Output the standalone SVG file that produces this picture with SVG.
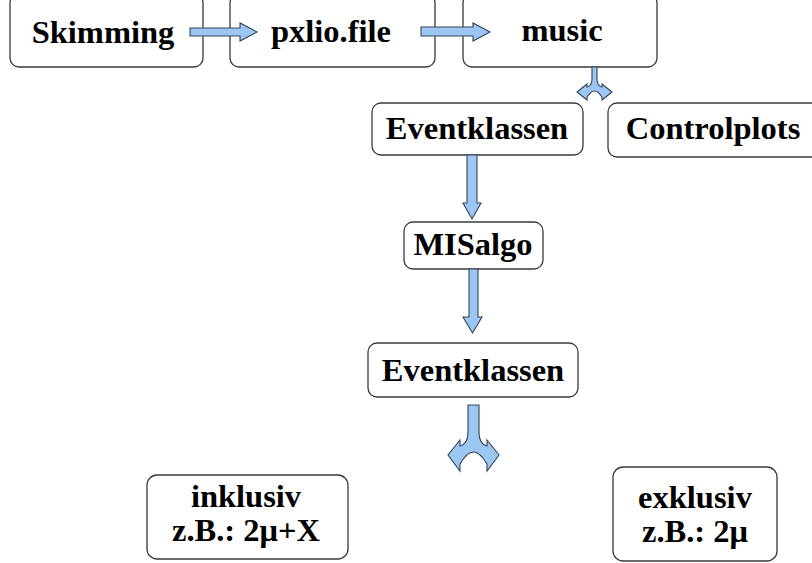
<svg xmlns="http://www.w3.org/2000/svg" width="812" height="563" viewBox="0 0 812 563">
<style>
.box{fill:#fff;stroke:#3a3a3a;stroke-width:1.3}
.t{font-family:"Liberation Serif","Times New Roman",serif;font-weight:bold;font-size:32.5px;fill:#000;text-anchor:middle}
.arr{fill:#9cc7f2;stroke:#34445a;stroke-width:1.1;stroke-linejoin:miter}
</style>
<rect width="812" height="563" fill="#fff"/>
<g id="node-skimming"><rect class="box" x="10" y="-6" width="193" height="73" rx="9"/><text class="t" x="103" y="43">Skimming</text></g>
<g id="node-pxlio"><rect class="box" x="230" y="-6" width="205" height="73" rx="9"/><text class="t" x="331" y="42">pxlio.file</text></g>
<g id="node-music"><rect class="box" x="463" y="-6" width="194" height="73" rx="9"/><text class="t" x="562" y="41">music</text></g>
<g id="node-eventklassen1"><rect class="box" x="372" y="103" width="211" height="52" rx="9"/><text class="t" x="477" y="139">Eventklassen</text></g>
<g id="node-controlplots"><rect class="box" x="608" y="103" width="215" height="54" rx="9"/><text class="t" x="713" y="139">Controlplots</text></g>
<g id="node-misalgo"><rect class="box" x="404" y="222" width="139" height="47" rx="9"/><text class="t" x="473" y="255">MISalgo</text></g>
<g id="node-eventklassen2"><rect class="box" x="368" y="343" width="210" height="54" rx="9"/><text class="t" x="473" y="381">Eventklassen</text></g>
<g id="node-inklusiv"><rect class="box" x="147" y="475" width="201" height="84" rx="10"/><text class="t" x="246" y="507">inklusiv</text><text class="t" x="246" y="541">z.B.: 2μ+X</text></g>
<g id="node-exklusiv"><rect class="box" x="613" y="467" width="164" height="94" rx="10"/><text class="t" x="695" y="508">exklusiv</text><text class="t" x="695" y="542">z.B.: 2μ</text></g>
<g id="connectors">
<path class="arr" d="M190,28 L240,28 L240,23 L257,32 L240,41 L240,36 L190,36 Z"/>
<path class="arr" d="M421,27 L473,27 L473,23 L490,32 L473,41 L473,36 L421,36 Z"/>
<path class="arr" d="M592,67 L597,67 L597,79 Q597,86 602,87 L602,84 L612,92 L602,100 L602,97 Q598,91 594.5,91 Q591,91 587,97 L587,100 L577,92 L587,84 L587,87 Q592,86 592,79 Z"/>
<path class="arr" d="M467,155 L477,155 L477,203 L481,203 L472,219 L463,203 L467,203 Z"/>
<path class="arr" d="M469,269 L478,269 L478,317 L482,317 L472.5,333 L463,317 L469,317 Z"/>
<path class="arr" d="M468,405 L479,405 L479,432 Q479,444 487,446 L487,440 L499,455 L487,471 L487,464 Q480,452 473.5,452 Q467,452 460,464 L460,471 L448,455 L460,440 L460,446 Q468,444 468,432 Z"/>
</g>
</svg>
